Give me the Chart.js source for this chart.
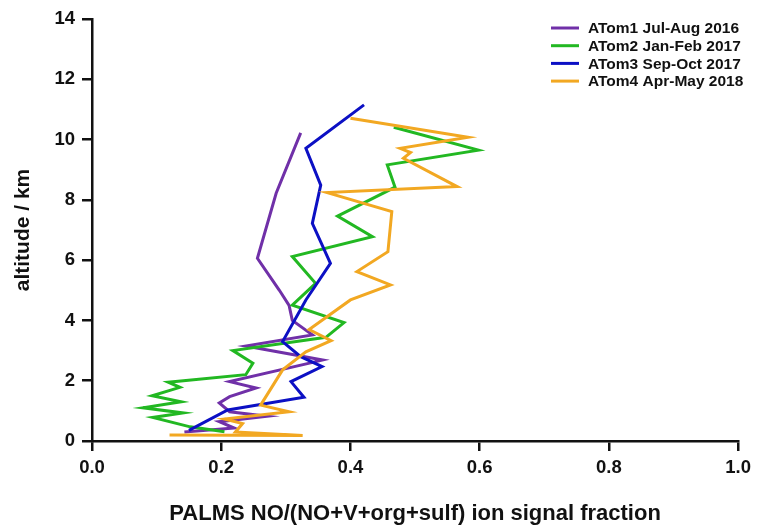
<!DOCTYPE html>
<html>
<head>
<meta charset="utf-8">
<script src="https://cdn.jsdelivr.net/npm/chart.js@4.4.1/dist/chart.umd.min.js"></script>
<style>
  html, body { margin: 0; padding: 0; background: #fff; }
  #wrap { width: 757px; height: 529px; }
</style>
</head>
<body>
<div id="wrap"><canvas id="chart" width="757" height="529"></canvas></div>
<script>
// ion signal fraction (x) against altitude in km (y), read top-down off the profiles
const atom1Frac = [0.323, 0.285, 0.256, 0.290, 0.305, 0.310, 0.341, 0.238, 0.357, 0.340, 0.213, 0.254, 0.213, 0.197, 0.213, 0.271, 0.197, 0.220, 0.143];
const atom1Alt  = [10.22, 8.22, 6.06, 5.00, 4.50, 4.00, 3.52, 3.15, 2.69, 2.60, 1.97, 1.76, 1.47, 1.26, 0.97, 0.82, 0.64, 0.43, 0.30];

const atom2Frac = [0.467, 0.598, 0.457, 0.469, 0.380, 0.434, 0.310, 0.346, 0.310, 0.390, 0.362, 0.218, 0.249, 0.238, 0.118, 0.136, 0.093, 0.138, 0.079, 0.141, 0.094, 0.152, 0.205];
const atom2Alt  = [10.41, 9.65, 9.16, 8.42, 7.46, 6.78, 6.12, 5.23, 4.51, 3.93, 3.44, 3.00, 2.58, 2.20, 1.95, 1.78, 1.50, 1.30, 1.10, 0.93, 0.78, 0.47, 0.31];

const atom3Frac = [0.421, 0.331, 0.354, 0.341, 0.369, 0.331, 0.295, 0.323, 0.356, 0.308, 0.328, 0.210, 0.150];
const atom3Alt  = [11.15, 9.71, 8.49, 7.22, 5.89, 4.68, 3.30, 2.80, 2.47, 1.97, 1.45, 1.03, 0.35];

const atom4Frac = [0.400, 0.582, 0.477, 0.493, 0.482, 0.565, 0.364, 0.464, 0.458, 0.410, 0.462, 0.400, 0.336, 0.370, 0.331, 0.295, 0.261, 0.305, 0.205, 0.233, 0.222, 0.326, 0.120];
const atom4Alt  = [10.71, 10.08, 9.71, 9.57, 9.38, 8.44, 8.24, 7.61, 6.28, 5.62, 5.18, 4.68, 3.70, 3.33, 2.96, 2.36, 1.19, 0.97, 0.73, 0.58, 0.30, 0.18, 0.20];

const seriesNames  = ["ATom1 Jul-Aug 2016", "ATom2 Jan-Feb 2017", "ATom3 Sep-Oct 2017", "ATom4 Apr-May 2018"];
const seriesColors = ["#7030a8", "#22b822", "#0c10c4", "#f2a822"];

const xTitle = "PALMS NO/(NO+V+org+sulf) ion signal fraction";
const yTitle = "altitude / km";

const FONT = "'Liberation Sans', Arial, sans-serif";

function toPoints(frac, alt) {
  return frac.map((f, i) => ({ x: f, y: alt[i] }));
}

const profiles = [
  toPoints(atom1Frac, atom1Alt),
  toPoints(atom2Frac, atom2Alt),
  toPoints(atom3Frac, atom3Alt),
  toPoints(atom4Frac, atom4Alt)
];

// orange on top, purple underneath
const drawOrder = [3, 2, 1, 0];

const datasets = profiles.map((pts, i) => ({
  label: seriesNames[i],
  data: pts,
  showLine: true,
  borderColor: seriesColors[i],
  backgroundColor: seriesColors[i],
  borderWidth: 3,
  pointRadius: 0,
  tension: 0,
  fill: false,
  order: drawOrder[i]
}));

// legend sits in the top right corner of the plot
const cornerLegend = {
  id: "cornerLegend",
  afterDraw(chart) {
    const ctx = chart.ctx;
    const x0 = 551, x1 = 579, tx = 588;
    const top = 28, step = 17.7;
    ctx.save();
    ctx.font = "bold 15.5px " + FONT;
    ctx.textBaseline = "middle";
    ctx.fillStyle = "#111";
    seriesNames.forEach((name, i) => {
      const y = top + i * step;
      ctx.strokeStyle = seriesColors[i];
      ctx.lineWidth = 3;
      ctx.beginPath();
      ctx.moveTo(x0, y);
      ctx.lineTo(x1, y);
      ctx.stroke();
      ctx.fillText(name, tx, y + 1);
    });
    ctx.restore();
  }
};

const ctx = document.getElementById("chart").getContext("2d");

new Chart(ctx, {
  type: "scatter",
  data: { datasets },
  options: {
    responsive: false,
    animation: false,
    layout: { padding: { top: 19, right: 16, left: 0, bottom: 0 } },
    plugins: {
      legend: { display: false },
      tooltip: { enabled: false }
    },
    scales: {
      x: {
        type: "linear",
        min: 0,
        max: 1,
        afterFit: s => { s.height = 88; },
        ticks: {
          stepSize: 0.2,
          color: "#111",
          padding: 6,
          font: { family: FONT, size: 18.5, weight: "bold" },
          callback: v => v.toFixed(1)
        },
        grid: { drawOnChartArea: false, drawTicks: true, tickLength: 10, color: "#111", lineWidth: 2.5 },
        border: { color: "#111", width: 2.5 },
        title: {
          display: true,
          text: xTitle,
          color: "#111",
          font: { family: FONT, size: 22, weight: "bold" },
          padding: { top: 0, bottom: 2 }
        }
      },
      y: {
        type: "linear",
        min: 0,
        max: 14,
        afterFit: s => { s.width = 92; },
        ticks: {
          stepSize: 2,
          color: "#111",
          padding: 7,
          font: { family: FONT, size: 18.5, weight: "bold" },
          callback: v => String(v)
        },
        grid: { drawOnChartArea: false, drawTicks: true, tickLength: 10, color: "#111", lineWidth: 2.5 },
        border: { color: "#111", width: 2.5 },
        title: {
          display: true,
          text: yTitle,
          color: "#111",
          font: { family: FONT, size: 21, weight: "bold" },
          padding: { top: 11, bottom: 0 }
        }
      }
    }
  },
  plugins: [cornerLegend]
});
</script>
</body>
</html>
